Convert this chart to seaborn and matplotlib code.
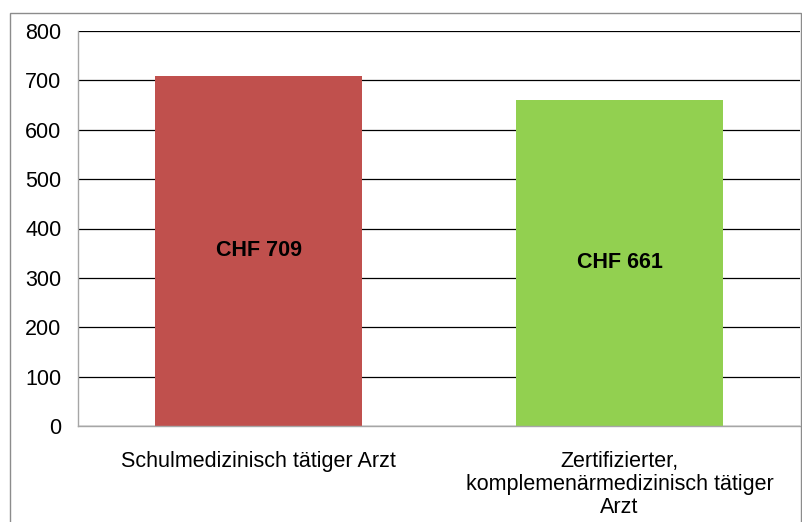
import matplotlib
matplotlib.use("Agg")
import matplotlib.pyplot as plt
import seaborn as sns
import pandas as pd
from matplotlib.patches import Rectangle

# data
categories = ["Schulmedizinisch tätiger Arzt",
              "Zertifizierter,\nkomplemenärmedizinisch tätiger\nArzt"]
values = [709, 661]
bar_labels = ["CHF 709", "CHF 661"]
bar_colors = ["#C0504D", "#92D050"]
yticks = [0, 100, 200, 300, 400, 500, 600, 700, 800]

sns.set_style("white")
plt.rcParams['font.family'] = ['Liberation Sans', 'DejaVu Sans']

W, H = 802, 522
fig = plt.figure(figsize=(W / 100, H / 100), dpi=100)
ax = fig.add_axes([78 / W, (H - 426) / H, (800 - 78) / W, (426 - 31) / H])

df = pd.DataFrame({"cat": categories, "val": values})
sns.barplot(data=df, x="cat", y="val", hue="cat", palette=bar_colors,
            width=0.573, legend=False, ax=ax, saturation=1, linewidth=0)

for i, (v, lab) in enumerate(zip(values, bar_labels)):
    ax.text(i, v / 2, lab, ha="center", va="center", fontsize=15.5,
            fontweight="bold", color="black")

ax.set_xlim(-0.5, 1.5)
ax.set_ylim(0, 800)
ax.set_yticks(yticks)
ax.yaxis.grid(True, color="black", linewidth=0.9)
ax.set_axisbelow(True)
ax.set_xlabel("")
ax.set_ylabel("")
ax.tick_params(axis="y", length=0, pad=12, labelsize=15.5, labelcolor="black")
ax.tick_params(axis="x", length=0, pad=18, labelsize=15.5, labelcolor="black")
for lbl in ax.get_xticklabels():
    lbl.set_linespacing(1.12)

for s in ["top", "right"]:
    ax.spines[s].set_visible(False)
for s in ["left", "bottom"]:
    ax.spines[s].set_color("#a6a6a6")
    ax.spines[s].set_linewidth(1.0)

# outer chart frame
fig.patches.append(Rectangle((9.5 / W, -0.1), (801 - 9.5) / W, (H - 12.5) / H + 0.1,
                             transform=fig.transFigure, fill=False,
                             edgecolor="#8c8c8c", linewidth=1.0))

fig.savefig("out.png", dpi=100)
